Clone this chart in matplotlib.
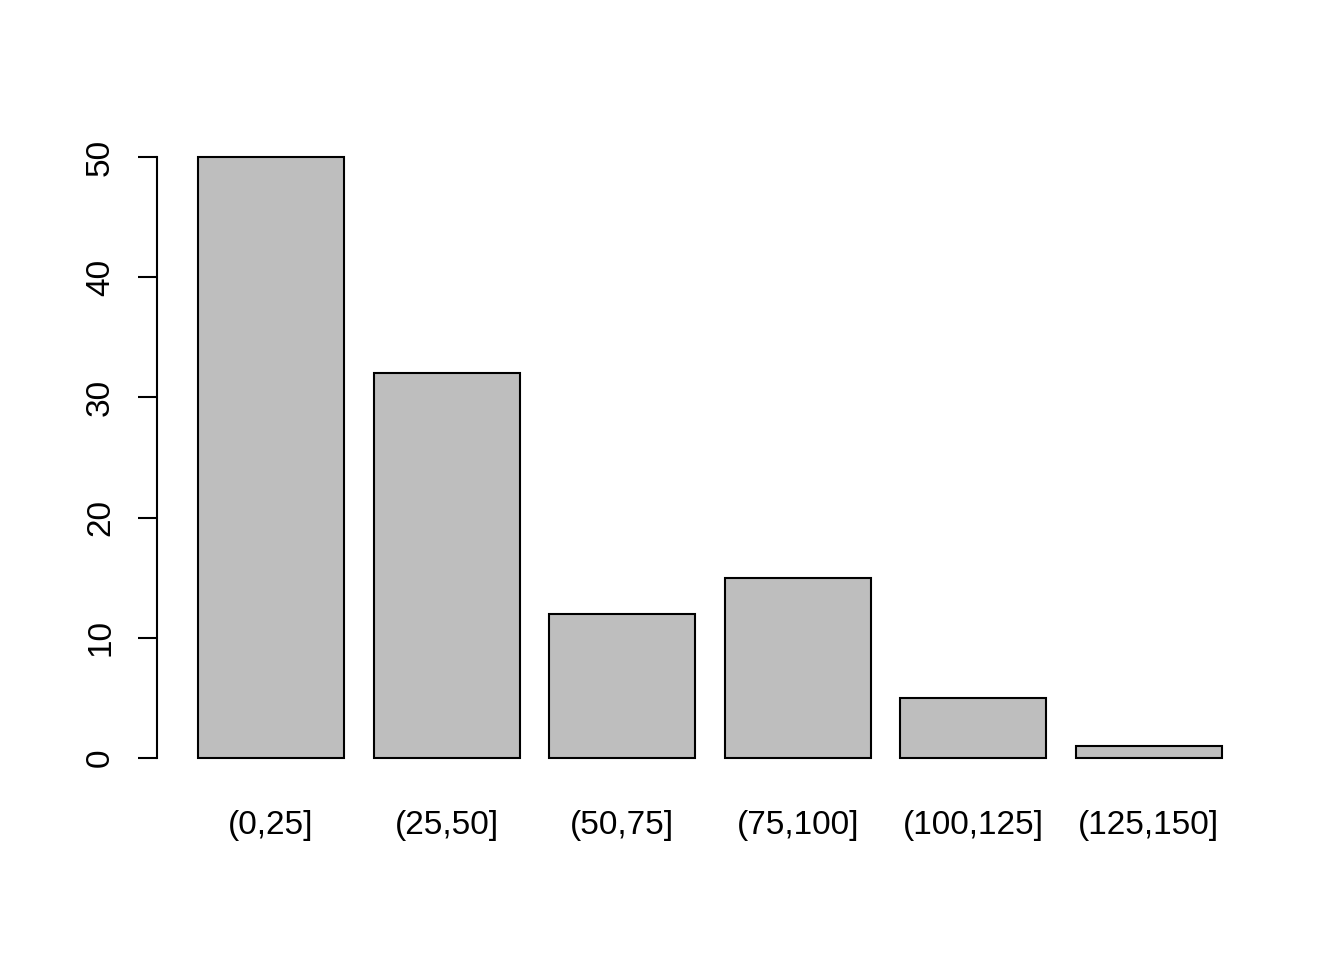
import matplotlib
matplotlib.use("Agg")
import matplotlib.pyplot as plt

categories = ["(0,25]", "(25,50]", "(50,75]", "(75,100]", "(100,125]", "(125,150]"]
counts = [50, 32, 12, 15, 5, 1]
yticks = [0, 10, 20, 30, 40, 50]

plt.rcParams['font.family'] = ['Liberation Sans', 'DejaVu Sans']

fig = plt.figure(figsize=(13.44, 9.6), dpi=100)
ax = fig.add_axes([157/1344, 1-782/960, (1263-157)/1344, (782-133)/960])

width = 1.0
space = 0.2
lefts = [space + i*(width+space) for i in range(len(counts))]
centers = [l + width/2 for l in lefts]
ax.bar(centers, counts, width=width, color="#BEBEBE", edgecolor="black", linewidth=1.5)

rng = lefts[-1] + width - lefts[0]
ax.set_xlim(lefts[0] - 0.04*rng, lefts[-1] + width + 0.04*rng)
ax.set_ylim(-0.04*50, 50*1.04)

ax.set_xticks(centers)
ax.set_xticklabels(categories, fontsize=24)
ax.set_yticks(yticks)
ax.set_yticklabels([str(v) for v in yticks], fontsize=24)
ax.tick_params(axis='x', length=0, pad=20.5)
ax.tick_params(axis='y', length=13.5, width=1.5, pad=16, labelrotation=90, direction='out')
for lab in ax.get_yticklabels():
    lab.set_va('center')

for s in ['top', 'right', 'bottom']:
    ax.spines[s].set_visible(False)
ax.spines['left'].set_bounds(0, 50)
ax.spines['left'].set_linewidth(1.5)

fig.savefig("out.png", dpi=100)
